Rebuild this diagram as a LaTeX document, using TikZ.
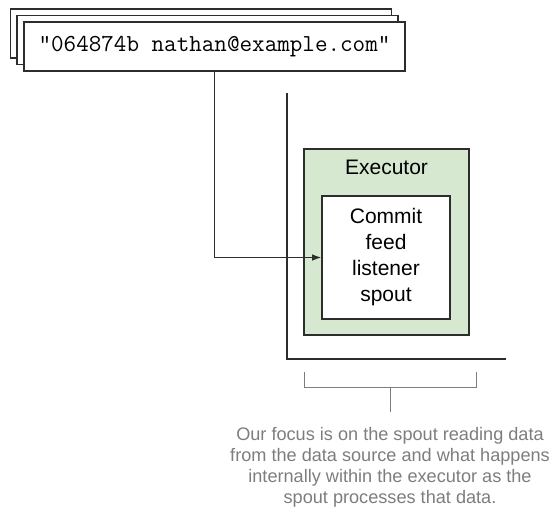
\documentclass[tikz,border=0pt]{standalone}
\usepackage{fontspec}
\setmainfont{Liberation Sans}
\usepackage{xcolor}
\usetikzlibrary{arrows.meta, positioning, calc}
\definecolor{execgreen}{RGB}{214,232,208}
\definecolor{linegray}{RGB}{45,45,45}
\definecolor{notegray}{RGB}{125,125,125}
\tikzset{
  card/.style   = {rectangle, draw=linegray, fill=white, line width=0.9pt,
                   minimum width=285.75pt, minimum height=36.75pt, inner sep=0pt,
                   font=\ttfamily\fontsize{18.3}{20}\selectfont},
  execbox/.style = {rectangle, draw=linegray, fill=execgreen, line width=0.9pt,
                   minimum width=123.75pt, minimum height=139.5pt, inner sep=0pt},
  spoutbox/.style = {rectangle, draw=linegray, fill=white, line width=0.9pt,
                   minimum width=96pt, minimum height=92.25pt, inner sep=0pt,
                   align=center, font=\fontsize{15.75}{19.5}\selectfont},
  arrow/.style  = {line width=1pt, draw=linegray, -{Latex[length=7pt,width=5pt]}},
  axis/.style   = {line width=0.9pt, draw=linegray},
  bracket/.style = {line width=0.7pt, draw=notegray},
}

\begin{document}
\begin{tikzpicture}[x=0.75pt, y=-0.75pt]
    \useasboundingbox (0,0) rectangle (555,507);

    %% Stack of records
    \node[card] (card3) at (201,   33.5) {};
    \node[card] (card2) at (207.5, 40)   {};
    \node[card] (card1) at (214.5, 46.5) {"064874b nathan@example.com"};

    %% Worker node outline
    \coordinate (ltop) at (287, 93);
    \coordinate (lcorner) at (287, 359);
    \coordinate (lright) at (506, 359);
    \draw[axis] (ltop) -- (lcorner) -- (lright);

    %% Executor and spout
    \node[execbox] (exec) at (386.5, 242) {};
    \node[font=\fontsize{15.75}{18}\selectfont] (execlbl) at (386.5, 167) {Executor};
    \node[spoutbox] (spout) at (386, 257.5) {Commit\\feed\\listener\\spout};

    \draw[arrow] (card1.south) |- (spout.west);

    %% Focus bracket
    \coordinate (bl) at (304, 372);
    \coordinate (br) at (476, 372);
    \coordinate (bmid) at (390, 387);
    \draw[bracket] (bl) |- (bmid) -| (br);
    \node[text=notegray, align=center, anchor=north, inner sep=0pt,
          font=\fontsize{13.6}{15.75}\selectfont] (note) at (390, 427)
         {Our focus is on the spout reading data\\from the data source and what happens\\internally within the executor as the\\spout processes that data.};
    \draw[bracket] (bmid) -- ++(0, 25);

\end{tikzpicture}
\end{document}
